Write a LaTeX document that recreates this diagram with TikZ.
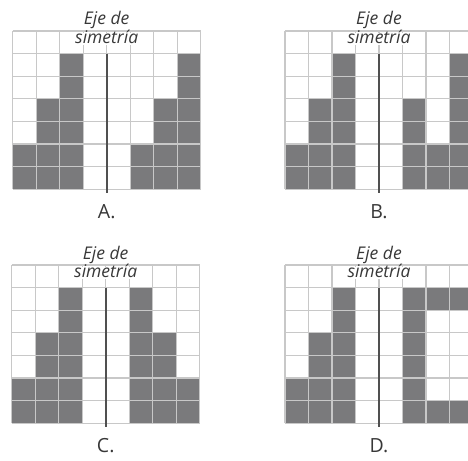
\documentclass[tikz,border=0pt]{standalone}
\usepackage{fontspec}
\setmainfont{Open Sans}
\definecolor{cellfill}{HTML}{7A7A7C}
\definecolor{gridcol}{HTML}{C8C8C8}
\definecolor{axiscol}{HTML}{505050}
\definecolor{txtcol}{HTML}{383838}
\tikzset{
  cellbox/.style={fill=cellfill, draw=none},
  gridline/.style={draw=gridcol, line width=1.1pt},
  axisline/.style={draw=axiscol, line width=1.8pt},
  ejelabel/.style={text=txtcol, font=\fontsize{17.5}{20}\selectfont\itshape, anchor=base, inner sep=0pt},
  simlabel/.style={text=txtcol, font=\fontsize{17.5}{20}\selectfont\itshape, anchor=base, fill=white, inner xsep=1pt, inner ysep=0pt, text height=10.5pt, text depth=2pt},
  letterlabel/.style={text=txtcol, font=\fontsize{19.5}{22}\selectfont, anchor=base, inner sep=0pt}
}
\newcommand{\leftcells}{1/6,1/7,2/4,2/5,2/6,2/7,3/2,3/3,3/4,3/5,3/6,3/7}
\newcommand{\drawpanel}[5]{%
  % #1 x, #2 y, #3 name, #4 letter, #5 right cells
  \begin{scope}[shift={(#1,#2)}]
    \foreach \c/\r in \leftcells {
      \fill[cellbox] ({(\c-1)*23.5},{(\r-1)*22.6}) rectangle ({\c*23.5},{\r*22.6});
    }
    \foreach \c/\r in {#5} {
      \fill[cellbox] ({(\c-1)*23.5},{(\r-1)*22.6}) rectangle ({\c*23.5},{\r*22.6});
    }
    \foreach \i in {0,...,8} {
      \draw[gridline] ({\i*23.5},0) -- ({\i*23.5},{7*22.6});
    }
    \foreach \j in {0,...,7} {
      \draw[gridline] (0,{\j*22.6}) -- (188,{\j*22.6});
    }
    \coordinate (#3top) at (94,22.6);
    \coordinate (#3bot) at (94,162);
    \draw[axisline] (#3top) -- (#3bot);
    \node[ejelabel] (#3eje) at (94,-6) {Eje de};
    \node[simlabel] (#3sim) at (94,12.3) {simetría};
    \node[letterlabel] (#3let) at (94,187.5) {#4};
  \end{scope}
}
\begin{document}
\begin{tikzpicture}[x=1pt,y=-1pt]
\useasboundingbox (0,0) rectangle (468,460);
\clip (0,0) rectangle (468,460);
\drawpanel{12.7}{31}{pa}{A.}{6/6,6/7,7/4,7/5,7/6,7/7,8/2,8/3,8/4,8/5,8/6,8/7}
\drawpanel{285}{31}{pb}{B.}{6/4,6/5,6/6,6/7,7/6,7/7,8/2,8/3,8/4,8/5,8/6,8/7}
\drawpanel{11.7}{265}{pc}{C.}{6/2,6/3,6/4,6/5,6/6,6/7,7/4,7/5,7/6,7/7,8/6,8/7}
\drawpanel{285}{265}{pd}{D.}{6/2,6/3,6/4,6/5,6/6,6/7,7/2,7/7,8/2,8/7}
\end{tikzpicture}
\end{document}
